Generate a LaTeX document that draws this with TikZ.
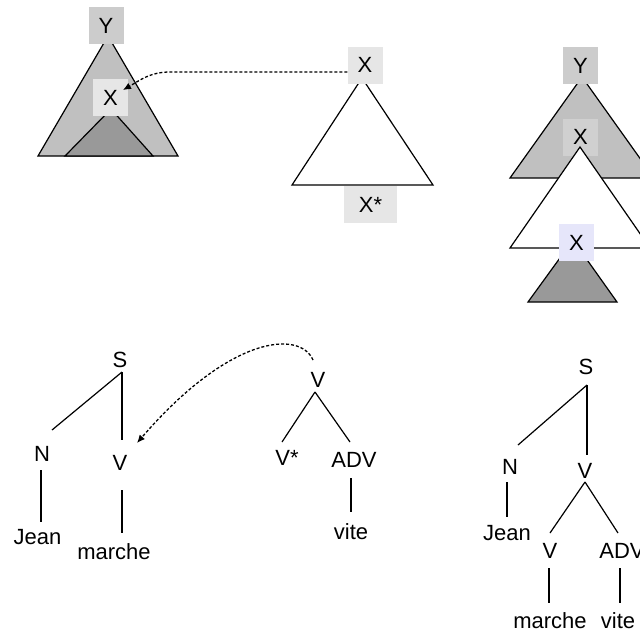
\documentclass[tikz,border=0pt]{standalone}
\usepackage{fontspec}
\setmainfont{Liberation Sans}
\usetikzlibrary{arrows.meta}
\definecolor{gA}{HTML}{C0C0C0}
\definecolor{gY}{HTML}{CCCCCC}
\definecolor{gX}{HTML}{E6E6E6}
\definecolor{gD}{HTML}{999999}
\definecolor{gU}{HTML}{D0D0D0}
\definecolor{lav}{HTML}{E6E6FA}
\begin{document}
\begin{tikzpicture}[x=1pt,y=-1pt,
  lbl/.style={font=\fontsize{22}{26}\selectfont, inner sep=0pt},
  boxnode/.style={lbl, minimum width=35pt, minimum height=37pt},
  tri/.style={draw=black, line width=1.2pt, line join=miter},
  edge/.style={line width=1.2pt},
  dotarrow/.style={line width=1.3pt, dash pattern=on 3pt off 2pt, -{Latex[length=8pt,width=7pt]}}
]
\useasboundingbox (0,0) rectangle (640,635);
\clip (0,0) rectangle (640,635);
\fill[white] (0,0) rectangle (640,635);

% ---- top left ----
\filldraw[tri, fill=gA] (108,36) -- (38,156) -- (178,156) -- cycle;
\filldraw[tri, fill=gD] (111,109) -- (65,156) -- (153,156) -- cycle;
\node[boxnode, fill=gY] (Y1) at (106,25.5) {Y};
\node[boxnode, fill=gX] (X1) at (110.5,97.5) {X};

% ---- top middle ----
\filldraw[tri, fill=white] (362,78) -- (292,185) -- (433,185) -- cycle;
\node[boxnode, fill=gX] (X2) at (365,65) {X};
\node[boxnode, fill=gX, minimum width=53pt] (X2s) at (370.5,204.5) {X*};
\coordinate (bend1) at (170,72);
\draw[dotarrow] ([shift={(0,7)}]X2.west) -- (bend1) to[out=180,in=30] ([shift={(12.5,-7.5)}]X1.center);

% ---- top right ----
\filldraw[tri, fill=gA] (582,77) -- (510,178) -- (654,178) -- cycle;
\node[boxnode, fill=gY] (Y3) at (580.5,65.5) {Y};
\node[boxnode, fill=gU] (X3) at (580.5,137) {};
\filldraw[tri, fill=white] (580,147) -- (510,248) -- (650,248) -- cycle;
\node[lbl] (X3t) at (X3) {X};
\filldraw[tri, fill=gD] (573,240) -- (528,302) -- (617,302) -- cycle;
\node[boxnode, fill=lav] (X4) at (576.5,242.5) {X};

% ---- bottom left ----
\node[lbl] (S1) at (120,360) {S};
\node[lbl] (N1) at (42,453.5) {N};
\node[lbl] (V1) at (120,463) {V};
\node[lbl] (J1) at (37.5,537) {Jean};
\node[lbl] (M1) at (114,551.5) {marche};
\node[lbl] (V2) at (318,380) {V};
\node[lbl] (V2s) at (287,458) {V*};
\node[lbl] (A2) at (354,460) {ADV};
\node[lbl] (T2) at (351,532) {vite};
\draw[edge] ([shift={(2,12)}]S1.center) -- ([shift={(10,-23.5)}]N1.center);
\draw[edge] ([shift={(2,12)}]S1.center) -- ([shift={(2,-23)}]V1.center);
\draw[edge] ([shift={(-1,16.5)}]N1.center) -- ([shift={(3.5,-15)}]J1.center);
\draw[edge] ([shift={(2,27)}]V1.center) -- ([shift={(8,-18.5)}]M1.center);
\draw[edge] ([shift={(-3,12)}]V2.center) -- ([shift={(-5,-16)}]V2s.center);
\draw[edge] ([shift={(-3,12)}]V2.center) -- ([shift={(-4,-18)}]A2.center);
\draw[edge] ([shift={(-3,18)}]A2.center) -- ([shift={(0,-20)}]T2.center);
\draw[dotarrow] ([shift={(-5,-20)}]V2.center) .. controls (300,330) and (230,335) .. ([shift={(17,-20)}]V1.center);

% ---- bottom right ----
\node[lbl] (S3) at (586,367) {S};
\node[lbl] (N3) at (510,467) {N};
\node[lbl] (V3) at (585,471) {V};
\node[lbl] (J3) at (507,533) {Jean};
\node[lbl] (V4) at (550,551) {V};
\node[lbl] (A4) at (622,551) {ADV};
\node[lbl] (M4) at (550,621) {marche};
\node[lbl] (T4) at (618,621) {vite};
\draw[edge] ([shift={(1,18)}]S3.center) -- ([shift={(8,-22)}]N3.center);
\draw[edge] ([shift={(1,18)}]S3.center) -- ([shift={(2,-16)}]V3.center);
\draw[edge] ([shift={(-3,15)}]N3.center) -- ([shift={(0,-16)}]J3.center);
\draw[edge] ([shift={(0,11)}]V3.center) -- ([shift={(0,-18)}]V4.center);
\draw[edge] ([shift={(0,11)}]V3.center) -- ([shift={(-4,-18)}]A4.center);
\draw[edge] ([shift={(-1,17)}]V4.center) -- ([shift={(-1,-18)}]M4.center);
\draw[edge] ([shift={(-2,17)}]A4.center) -- ([shift={(2,-18)}]T4.center);
\end{tikzpicture}
\end{document}
